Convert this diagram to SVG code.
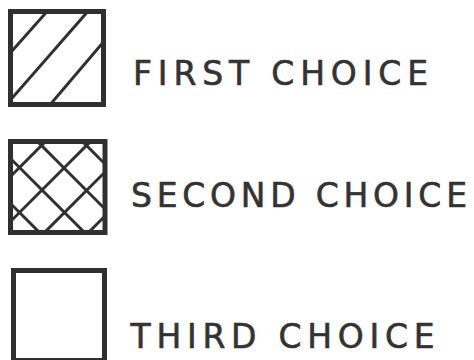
<svg xmlns="http://www.w3.org/2000/svg" width="474" height="360" viewBox="0 0 474 360">
  <defs>
    <style>
      .box { fill: none; stroke: #303030; stroke-width: 5; }
      .hatch { fill: none; stroke: #303030; stroke-width: 3; }
      .label { font-family: "DejaVu Sans", "Liberation Sans", Arial, sans-serif; font-size: 33px; fill: #333333; stroke: #333333; stroke-width: 0.6; }
    </style>
    <clipPath id="clip1"><rect x="10" y="11" width="96" height="95"/></clipPath>
    <clipPath id="clip2"><rect x="10" y="141" width="95" height="92"/></clipPath>
  </defs>
  <rect width="474" height="360" fill="#ffffff"/>

  <g id="first-choice">
    <g class="hatch" clip-path="url(#clip1)">
      <line x1="8" y1="55.6" x2="47" y2="11.6"/>
      <line x1="8" y1="102.7" x2="90" y2="9"/>
      <line x1="49" y1="106" x2="106" y2="39"/>
    </g>
    <rect class="box" x="10.5" y="11.5" width="93" height="93"/>
    <text class="label" x="133" y="84.5" textLength="295" lengthAdjust="spacing">FIRST CHOICE</text>
  </g>

  <g id="second-choice">
    <g class="hatch" clip-path="url(#clip2)">
      <line x1="-53" y1="240" x2="57" y2="130"/>
      <line x1="-8" y1="240" x2="102" y2="130"/>
      <line x1="37" y1="240" x2="147" y2="130"/>
      <line x1="81" y1="240" x2="191" y2="130"/>
      <line x1="-63" y1="130" x2="47" y2="240"/>
      <line x1="-18" y1="130" x2="92" y2="240"/>
      <line x1="26" y1="130" x2="136" y2="240"/>
      <line x1="71" y1="130" x2="181" y2="240"/>
    </g>
    <rect class="box" x="10.5" y="141.5" width="94.5" height="91"/>
    <text class="label" x="131" y="206.5" textLength="336" lengthAdjust="spacing">SECOND CHOICE</text>
  </g>

  <g id="third-choice">
    <rect class="box" x="13.5" y="270.5" width="91" height="90"/>
    <text class="label" x="130.5" y="348" textLength="304" lengthAdjust="spacing">THIRD CHOICE</text>
  </g>
</svg>
